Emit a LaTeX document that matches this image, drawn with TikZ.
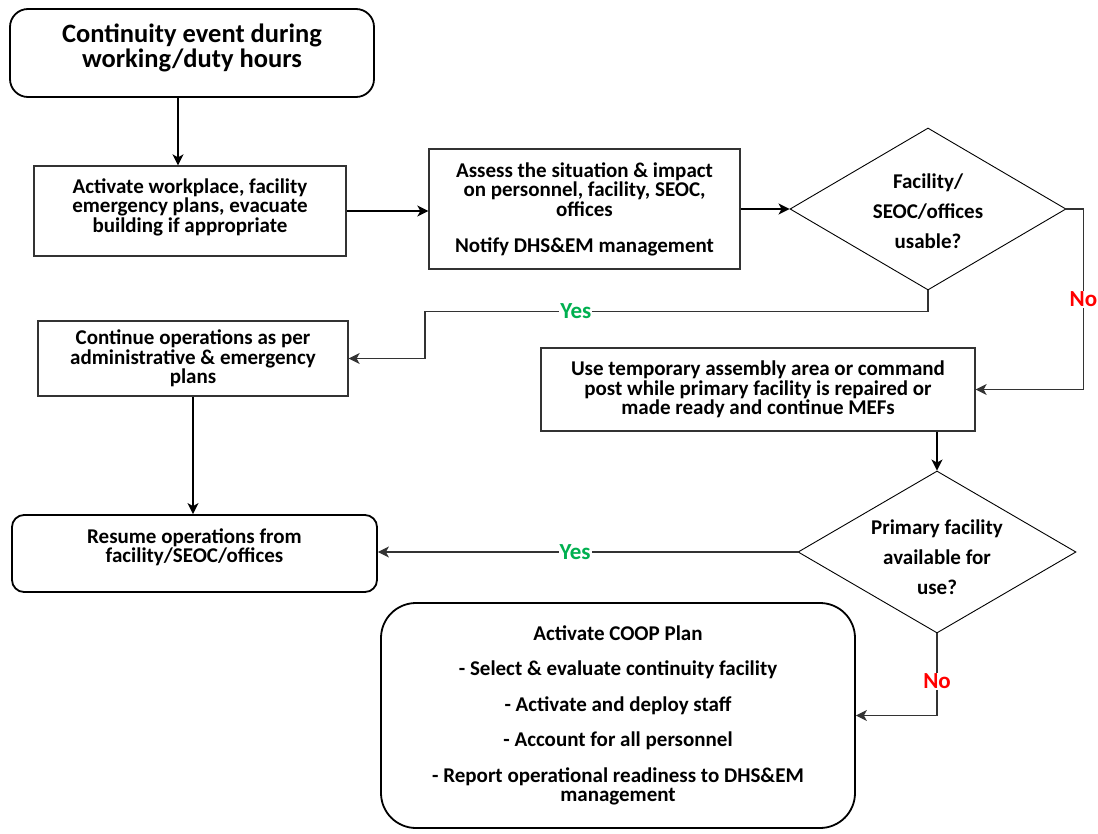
\documentclass[tikz,border=0pt]{standalone}
\usepackage{fontspec}
\setmainfont{Carlito}
\usetikzlibrary{arrows.meta,shapes.geometric}
\definecolor{yesgreen}{RGB}{0,176,80}
\definecolor{nored}{RGB}{255,0,0}

\begin{document}
\begin{tikzpicture}[x=1pt,y=-1pt,
	font=\fontsize{21}{19.5}\selectfont\bfseries,
	box/.style={draw=black!80, line width=1.3pt, align=center, inner sep=0pt},
	rbox/.style={draw, line width=1.8pt, rounded corners=#1, align=center, inner sep=0pt},
	dia/.style={draw, diamond, line width=0.9pt, inner sep=0pt},
	arrow/.style={line width=1.8pt, -{Stealth[length=11pt,width=11pt,inset=3pt]}},
	link/.style={draw=black!80, line width=1.2pt, -{Stealth[length=11pt,width=11pt,inset=3pt]}},
	yes/.style={fill=white, text=yesgreen, inner sep=1pt, font=\fontsize{23}{24}\selectfont\bfseries},
	no/.style={fill=white, text=nored, inner sep=1pt, font=\fontsize{23}{24}\selectfont\bfseries}]
			\useasboundingbox (0,0) rectangle (1098,833);
			% boxes
			\node[rbox=18pt, minimum width=364pt, minimum height=88pt, text depth=14pt, font=\fontsize{26.5}{25}\selectfont\bfseries] (start) at (192,53) {Continuity event during\\working/duty hours};
			\node[box, minimum width=312pt, minimum height=90pt, text depth=11pt] (act) at (190,211) {Activate workplace, facility\\emergency plans, evacuate\\building if appropriate};
			\node[box, minimum width=311pt, minimum height=120pt] (assess) at (584.5,209) {Assess the situation \& impact\\on personnel, facility, SEOC,\\offices\\[16.5pt]Notify DHS\&EM management};
			\node[dia, minimum width=276pt, minimum height=162pt, label={[align=center,yshift=-2pt]center:Facility/\\[10.5pt]SEOC/offices\\[10.5pt]usable?}] (fac) at (928,209) {};
			\node[box, minimum width=310pt, minimum height=75pt] (cont) at (193,358.5) {Continue operations as per\\administrative \& emergency\\plans};
			\node[box, minimum width=434pt, minimum height=83pt] (temp) at (758,389.5) {Use temporary assembly area or command\\post while primary facility is repaired or\\made ready and continue MEFs};
			\node[dia, minimum width=278pt, minimum height=162pt, label={[align=center,yshift=-5pt]center:Primary facility\\[10.5pt]available for\\[10.5pt]use?}] (prim) at (937,552) {};
			\node[rbox=12pt, minimum width=365pt, minimum height=77pt, text depth=16pt] (res) at (194.5,553.5) {Resume operations from\\facility/SEOC/offices};
			\node[rbox=35pt, minimum width=474pt, minimum height=225pt] (coop) at (618,715.5) {Activate COOP Plan\\[16pt]- Select \& evaluate continuity facility\\[16pt]- Activate and deploy staff\\[16pt]- Account for all personnel\\[16pt]- Report operational readiness to DHS\&EM\\management};
			% main flow
			\draw[arrow] ([xshift=-12]act.north |- start.south) -- ([xshift=-12]act.north);
			\draw[arrow] (act.east) -- (act.east -| assess.west);
			\draw[arrow] (assess.east) -- (fac.west);
			\draw[arrow] (cont.south) -- (cont.south |- res.north);
			\draw[arrow] (temp.south -| prim.north) -- (prim.north);
			% decisions
			\draw[link] (fac.south) -- ++(0,21) -- node[yes, pos=0.7] {Yes} ++(-503,0) |- (cont.east);
			\draw[link] (fac.east) -- ++(17,0) |- node[no, pos=0.25] {No} (temp.east);
			\draw[link] (prim.west) -- node[yes, pos=0.53] {Yes} (prim.west -| res.east);
			\draw[link] (prim.south) |- node[no, pos=0.29] {No} (coop.east);
		\end{tikzpicture}
\end{document}
